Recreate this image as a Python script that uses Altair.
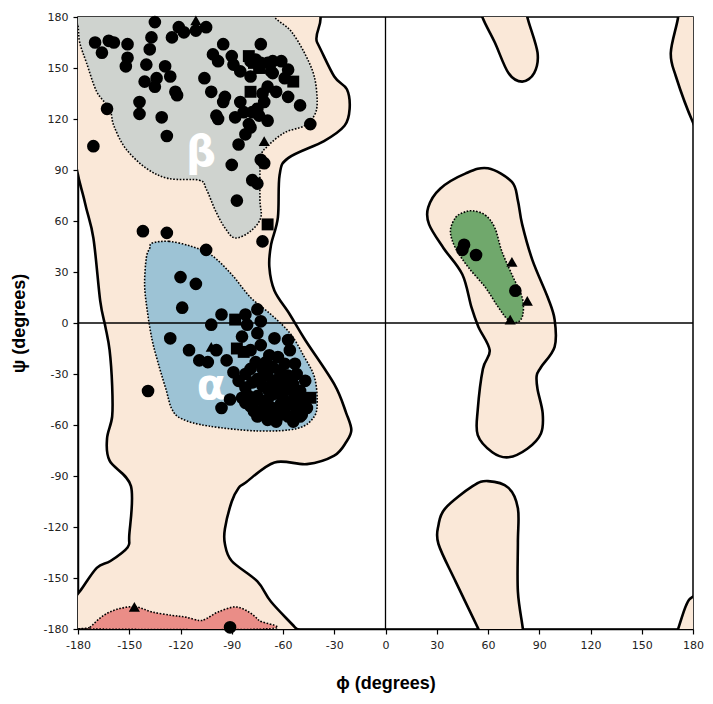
import altair as alt
import pandas as pd

# ---------------- region outlines (phi, psi in degrees) ----------------
ALLOWED_MAIN = [(-190, 190), (-52, 188), (-40, 165), (-30, 145), (-22.6, 137.5), (-21, 126), (-24, 116),
                (-36, 107), (-57, 97), (-62, 87), (-63, 62), (-67, 46), (-68, 33), (-65, 19), (-56, 5),
                (-47, -10), (-30, -36), (-23, -53), (-20, -63), (-23, -70), (-30, -78), (-46, -83),
                (-65, -82), (-82, -94), (-86, -97), (-90, -105), (-94, -121), (-94, -130), (-90, -140),
                (-75, -152), (-67, -164), (-53, -179), (-43, -190), (-190, -190), (-188, -170),
                (-179, -158), (-169, -144), (-161, -140), (-151, -132), (-150, -125), (-149, -96),
                (-161.5, -81), (-163, -68), (-160, -55), (-160, -37), (-161.5, -16), (-164, -2),
                (-167, 13), (-171, 50), (-176, 71), (-183, 105)]
ALLOWED_LEFT_HANDED = [(60, 91), (74, 83), (77.5, 72), (80, 58), (86, 37), (95, 15), (99, 2), (99, -14),
                       (91, -26), (88.5, -31), (89, -39), (92, -53), (91, -65), (83, -74), (72, -79),
                       (62.5, -76), (54, -66), (54, -51), (57, -27), (61, -16), (54.4, -2.3), (50.3, 9.3),
                       (45, 28.5), (34, 44), (25.5, 58), (25, 68), (32, 79), (47, 88)]
ALLOWED_TOP_MID = [(55, 190), (56.7, 180), (64, 165), (72, 147), (80, 142), (87, 147), (89, 159),
                   (83, 180), (82, 190)]
ALLOWED_BOTTOM_MID = [(59, -190), (54.4, -180), (41, -152), (31, -130), (31, -119), (35, -109), (51, -96),
                      (60, -93), (72, -97), (77.5, -109), (77.5, -129), (77.5, -158), (80.4, -180),
                      (81, -190)]
ALLOWED_TOP_RIGHT = [(171, 190), (171.3, 180), (167, 159), (170, 145), (180, 118), (190, 100), (190, 190)]
ALLOWED_BOTTOM_RIGHT = [(168, -190), (171.3, -180), (176, -166), (180, -161), (190, -158), (190, -190)]

FAV_BETA = [(-182, 190), (-180, 175), (-179, 165), (-175, 153), (-169, 136), (-161.5, 126), (-159, 116),
            (-152, 102.5), (-140, 91), (-127, 85), (-109, 84), (-105, 79), (-99.5, 66), (-94, 56),
            (-88, 50), (-79, 54), (-73, 62), (-73.5, 73), (-73, 97), (-69, 104), (-59, 112), (-47.5, 116),
            (-41.7, 122), (-40, 130), (-41.7, 145), (-47.5, 159), (-55.6, 172), (-65, 180), (-70, 190)]
FAV_ALPHA = [(-136.6, 47), (-126.7, 48), (-113.4, 45), (-102, 40), (-90, 28.5), (-79, 15), (-67, 5),
             (-55.6, -6.4), (-47.5, -20), (-41.7, -31.5), (-40, -45), (-41.7, -55), (-51.5, -62),
             (-74.7, -63.5), (-103.6, -60.6), (-119, -56.5), (-125, -50.7), (-128.5, -39), (-132.5, -25.6),
             (-136.6, -10), (-139.5, 7.6), (-141, 22.7), (-140, 38.4), (-138, 44)]
FAV_LEFT = [(51, 66), (58.4, 63.5), (64, 56), (68, 42.5), (74, 28.5), (80, 15), (80.4, 5), (77.5, 0.6),
            (72, 1.7), (66, 9.3), (58.4, 21), (48.6, 32.6), (41, 44), (38, 54), (41, 62), (45.7, 65)]
FAV_BOTTOM = [(-175, -180), (-173, -179), (-165, -172), (-155.7, -168), (-146, -167), (-136.6, -170),
              (-125, -172), (-117, -173), (-109, -175), (-105, -174), (-98, -170), (-88, -167), (-80, -170),
              (-74, -175), (-70, -180)]

# ---------------- residues (phi, psi) ----------------
CIRCLES = [
    (-135, 177), (-121, 174), (-118, 171), (-111, 172), (-105, 174), (-125, 168), (-137, 168), (-170, 165),
    (-162, 166), (-159, 165), (-151, 164), (-166, 159), (-151, 156), (-152, 151), (-138, 161), (-140, 152),
    (-129, 151), (-126, 145), (-134, 144), (-141, 142), (-135, 139), (-123, 136), (-122, 134), (-144, 130),
    (-144, 123), (-163, 126), (-131, 121), (-128, 110), (-171, 104), (-106, 144), (-102, 136), (-95, 164),
    (-73, 164), (-101, 158), (-98, 154), (-90, 157), (-89, 152), (-85, 148), (-79, 154), (-76, 155),
    (-73, 153), (-69, 153), (-66, 154), (-61, 154), (-57, 149), (-67, 148), (-59, 144), (-79, 145),
    (-66, 147), (-69, 139), (-64, 136), (-57, 133), (-50, 128), (-44, 117), (-94, 133), (-95, 130),
    (-85, 130), (-72, 135), (-71, 130), (-75, 126), (-83, 124), (-78, 124), (-74, 122), (-69, 119),
    (-88, 121), (-99, 122), (-98, 120), (-80, 117), (-79, 115), (-82, 111), (-86, 105), (-73, 96),
    (-71, 94), (-90, 93), (-78, 84), (-75, 82), (-87, 72),
    (-72, 48), (-142, 54), (-128, 53), (-105, 43),
    (-120, 27), (-111, 23), (-119, 9), (-126, -9), (-139, -40), (-102, -1), (-96, 5), (-115, -16),
    (-109, -22), (-104, -23), (-99, -16), (-93, -22), (-89, -29), (-96, -50), (-91, -45),
    (-82, 5), (-75, 8), (-81, -1), (-73, 1), (-84, -8), (-75, -6), (-65, -9), (-57, -10), (-79, -16),
    (-73, -13), (-68, -19), (-63, -20), (-56, -16), (-76, -23), (-82, -30), (-72, -27), (-66, -26),
    (-59, -24), (-53, -24), (-52, -30), (-47, -34), (-82, -38), (-80, -43), (-79, -49), (-73, -53),
    (-69, -57), (-63, -55), (-57, -55), (-52, -51), (-49, -54), (-75, -33), (-69, -31), (-63, -33),
    (-57, -31), (-69, -39), (-63, -41), (-57, -39), (-53, -43), (-69, -45), (-61, -47), (-56, -47),
    (-75, -43), (-71, -50), (-75, -55), (-50, -55),
    (-78, -35), (-66, -36), (-60, -36), (-54, -36), (-50, -40), (-48, -46), (-46, -50), (-66, -50),
    (-60, -52), (-54, -58), (-64, -58), (-72, -46), (-78, -48), (-84, -44), (-62, -28), (-70, -23),
    (-60, -44), (-66, -42), (-86, -34), (-79, -27), (-72, -37), (-58, -49), (-50, -47), (-67, -54),
    (-77, -52), (-82, -47),
    (46, 46), (45, 43), (53, 40), (76, 19),
    (-91, -179),
]
SQUARES = [(-80, 157), (-77, 153), (-74, 150), (-54, 142), (-79, 136), (-69, 58),
           (-88, 2), (-87, -15), (-83, -17), (-44, -44), (-52, -40)]
TRIANGLES = [(-111, 178), (-71, 107), (-102, -14), (74, 36), (83, 13), (73, 2), (-147, -167)]

LABELS = ["β", "α"]
LABEL_PHI = [-108, -102]
LABEL_PSI = [100, -37]

TICKS = list(range(-180, 181, 30))

# ---------------- chart ----------------
sc = alt.Scale(domain=[-180, 180], nice=False, zero=False)
X = alt.X("phi:Q", scale=sc, axis=alt.Axis(values=TICKS, title="ϕ (degrees)"))
Y = alt.Y("psi:Q", scale=sc, axis=alt.Axis(values=TICKS, title="ψ (degrees)"))


def poly_df(pts):
    return pd.DataFrame({"phi": [p[0] for p in pts], "psi": [p[1] for p in pts], "i": list(range(len(pts)))})


def region(pts, fill, dotted):
    props = dict(fill=fill, stroke="black", interpolate="cardinal-closed", clip=True)
    if dotted:
        props.update(strokeWidth=1.6, strokeDash=[1.6, 1.6])
    else:
        props.update(strokeWidth=2.6)
    return alt.Chart(poly_df(pts)).mark_line(**props).encode(x=X, y=Y, order="i:Q")


PEACH = "#FAE8D8"
layers = [region(p, PEACH, False) for p in
          [ALLOWED_MAIN, ALLOWED_LEFT_HANDED, ALLOWED_TOP_MID, ALLOWED_BOTTOM_MID, ALLOWED_TOP_RIGHT,
           ALLOWED_BOTTOM_RIGHT]]
layers += [region(FAV_BETA, "#CFD3CF", True), region(FAV_ALPHA, "#9DC3D5", True),
           region(FAV_LEFT, "#70A86C", True), region(FAV_BOTTOM, "#EA8D87", True)]

zero_df = pd.DataFrame({"v": [0]})
layers.append(alt.Chart(zero_df).mark_rule(color="black", strokeWidth=1.3).encode(x=alt.X("v:Q", scale=sc)))
layers.append(alt.Chart(zero_df).mark_rule(color="black", strokeWidth=1.3).encode(y=alt.Y("v:Q", scale=sc)))

lab_df = pd.DataFrame({"t": LABELS, "phi": LABEL_PHI, "psi": LABEL_PSI})
layers.append(alt.Chart(lab_df).mark_text(color="white", fontSize=42, fontWeight="bold",
                                          font="DejaVu Sans", align="center", baseline="middle")
              .encode(x=X, y=Y, text="t:N"))

pts = ([(a, b, "circle") for a, b in CIRCLES] + [(a, b, "square") for a, b in SQUARES]
       + [(a, b, "triangle") for a, b in TRIANGLES])
pts_df = pd.DataFrame(pts, columns=["phi", "psi", "kind"])
layers.append(alt.Chart(pts_df).mark_point(filled=True, color="black", opacity=1, clip=False).encode(
    x=X, y=Y,
    shape=alt.Shape("kind:N", scale=alt.Scale(domain=["circle", "square", "triangle"],
                                              range=["circle", "square", "triangle-up"]), legend=None),
    size=alt.Size("kind:N", scale=alt.Scale(domain=["circle", "square", "triangle"],
                                            range=[160, 125, 120]), legend=None),
))

chart = alt.layer(*layers).properties(
    width=615, height=612,
    autosize=alt.AutoSizeParams(type="none"),
    padding={"left": 70, "top": 9, "right": 12, "bottom": 66},
).configure_view(stroke="black", strokeWidth=1.5).configure_axis(
    grid=False, domainColor="black", domainWidth=1.5, tickColor="black", tickSize=5, tickWidth=1.2,
    labelFont="DejaVu Sans", labelFontSize=11, labelColor="#222222", labelPadding=5, labelFlush=False,
    labelExpr="'' + datum.value",
    titleFont="Liberation Sans", titleFontSize=18, titleFontWeight="bold", titleColor="black",
).configure_axisX(titlePadding=24).configure_axisY(titlePadding=15)

chart.save("out.html", embed_options={"renderer": "svg", "actions": False})
